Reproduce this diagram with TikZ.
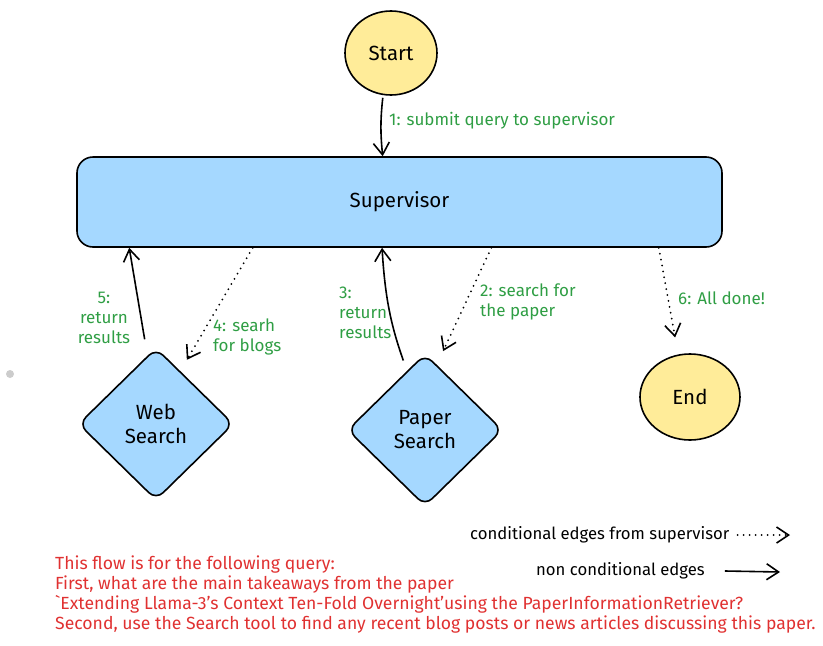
\documentclass[tikz,border=0pt]{standalone}
\usepackage{fontspec}
\setmainfont{Fira Sans}
\usetikzlibrary{arrows.meta, shapes.geometric, calc}
\definecolor{termyellow}{HTML}{FFEC99}
\definecolor{toolblue}{HTML}{A5D8FF}
\definecolor{stepgreen}{HTML}{2F9E44}
\definecolor{notered}{HTML}{E03131}

\begin{document}
\begin{tikzpicture}[
  x=1pt,
  y=-1pt,
  terminal/.style={ellipse, draw, line width=1.6pt, fill=termyellow, font=\fontsize{20.5}{22}\selectfont},
  tool/.style={diamond, draw, line width=1.6pt, fill=toolblue, rounded corners=10pt, align=center,
    minimum width=155pt, minimum height=152pt, inner sep=0pt, font=\fontsize{20.5}{24}\selectfont},
  boss/.style={rectangle, draw, line width=1.6pt, fill=toolblue, rounded corners=16pt,
    minimum width=645pt, minimum height=90pt, font=\fontsize{20.5}{22}\selectfont},
  plain/.style={line width=1.6pt, -{Straight Barb[length=12pt, width=16pt, line width=1.6pt]}},
  cond/.style={line width=2pt, line cap=round, dash pattern=on 0pt off 6pt,
    -{Straight Barb[length=12pt, width=16pt, line width=1.6pt]}},
  steplbl/.style={text=stepgreen, anchor=west, align=left, inner sep=0pt, font=\fontsize{17}{20}\selectfont},
  legendlbl/.style={anchor=west, inner sep=0pt, font=\fontsize{16.7}{20}\selectfont}
  ]
    % page
    \useasboundingbox (0,0) rectangle (823,646);
    \fill[black!20] (10,374) circle (4);

    % nodes
    \node[terminal, minimum width=92pt, minimum height=84pt] (start) at (391,53) {Start};
    \node[boss] (sup) at (399.5,202) {Supervisor};
    \node[tool] (web) at (156,424) {Web\\Search};
    \node[tool] (paper) at (425,430) {Paper\\Search};
    \node[terminal, minimum width=100pt, minimum height=86pt] (end) at (690,397) {End};

% 1: start -> supervisor
\draw[plain, shorten <=2pt] ([xshift=-8pt]start.south) to[bend right=6] ($(sup.north west)!0.474!(sup.north east)$);
\node[steplbl] (l1) at (389,121) {1: submit query to supervisor};

% 2 / 3: paper search
\draw[cond, shorten >=15pt] ($(sup.south west)!0.642!(sup.south east)$) -- ($(paper.north)!0.15!(paper.east)$);
\node[steplbl] (l2) at (480,302) {2: search for\\the paper};
\draw[plain, shorten <=11pt] ($(paper.north)!0.23!(paper.west)$) to[bend left=8] ($(sup.south west)!0.473!(sup.south east)$);
\node[steplbl] (l3) at (339,313) {3:\\return\\results};

% 4 / 5: web search
\draw[cond, shorten >=13pt] ($(sup.south west)!0.273!(sup.south east)$) -- ($(web.north)!0.31!(web.east)$);
\node[steplbl] (l4) at (213,337) {4: searh\\for blogs};
\draw[plain, shorten <=8pt] ([xshift=-10pt]web.north) -- ($(sup.south west)!0.082!(sup.south east)$);
\node[steplbl, anchor=center, align=center] (l5) at (104,318) {5:\\return\\results};

% 6: done
\draw[cond, shorten >=16pt] ($(sup.south west)!0.901!(sup.south east)$) -- ([xshift=-12pt]end.north);
\node[steplbl] (l6) at (678,298) {6: All done!};

%legend
\node[legendlbl] (legcond) at (470,535) {conditional edges from supervisor};
\coordinate (legcondend) at (790,535);
\draw[cond] ([xshift=8pt]legcond.east) -- (legcondend);
\node[legendlbl] (legplain) at (536,571) {non conditional edges};
\coordinate (legplainend) at (780,572);
\draw[plain] ([xshift=20pt]legplain.east) -- (legplainend);

% query note
\node[anchor=west, align=left, inner sep=0pt, text=notered, font=\fontsize{17.6}{20}\selectfont] (note) at (55,595)
  {This flow is for the following query:\\
   First, what are the main takeaways from the paper\\
   \textasciigrave Extending Llama-3's Context Ten-Fold Overnight'using the PaperInformationRetriever?\\
   Second, use the Search tool to find any recent blog posts or news articles discussing this paper.};

\end{tikzpicture}
\end{document}
